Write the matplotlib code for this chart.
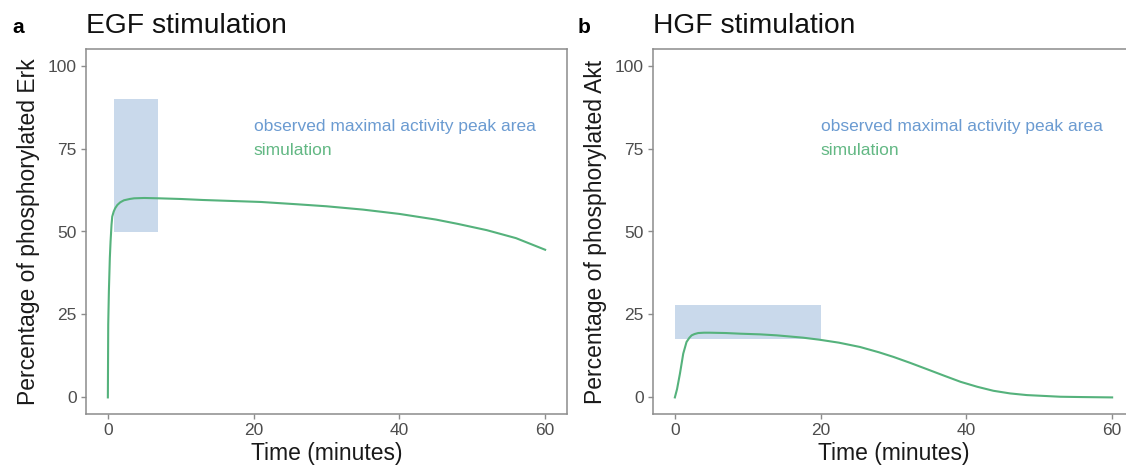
import matplotlib
matplotlib.use("Agg")
import matplotlib.pyplot as plt
from matplotlib.patches import Rectangle

plt.rcParams['font.family'] = ['Liberation Sans', 'DejaVu Sans']

# ---- data ----
erk_time = [0, 0.05, 0.14, 0.27, 0.37, 0.5, 0.6, 0.8, 1.0, 1.3, 1.7, 2.2, 3, 3.6, 5, 7,
            10, 13, 17, 21, 26, 30, 35, 40, 45, 48, 52, 56, 60]
erk_value = [0, 22, 32, 42, 47, 52, 54.5, 56, 57, 58, 58.8, 59.4, 59.8, 60, 60.1, 60,
             59.8, 59.5, 59.2, 58.9, 58.2, 57.6, 56.6, 55.3, 53.6, 52.3, 50.4, 48, 44.5]

akt_time = [0, 0.3, 0.7, 1.15, 1.6, 2.0, 2.3, 2.7, 3.2, 4, 4.8, 7, 9, 11.7, 14, 17.6,
            19.8, 22.5, 25.4, 28, 30, 32.3, 34.6, 37, 39.2, 41.5, 43.7, 46, 48.3, 52.9, 56, 60]
akt_value = [0, 2.5, 7.2, 13.2, 16.7, 18.0, 18.7, 19.1, 19.4, 19.5, 19.5, 19.4, 19.2, 19.0, 18.7, 18.0,
             17.4, 16.5, 15.2, 13.6, 12.2, 10.4, 8.5, 6.5, 4.7, 3.2, 2.0, 1.2, 0.7, 0.2, 0.1, 0]

erk_peak_x = [0.85, 6.9]
erk_peak_y = [50, 90]
akt_peak_x = [0, 20]
akt_peak_y = [17.6, 27.9]

panel_letters = ["a", "b"]
titles = ["EGF stimulation", "HGF stimulation"]
ylabels = ["Percentage of phosphorylated Erk", "Percentage of phosphorylated Akt"]
xlabel = "Time (minutes)"
xticks = [0, 20, 40, 60]
yticks = [0, 25, 50, 75, 100]
legend_texts = ["observed maximal activity peak area", "simulation"]

# ---- style ----
line_color = "#55b27c"
rect_color = "#c9d9eb"
blue_text = "#6b9bd1"
green_text = "#63b884"
spine_color = "#8c8c8c"
tick_label_color = "#4d4d4d"

W, H = 1126, 467
fig = plt.figure(figsize=(W / 100, H / 100), dpi=100)

ax_w = 481 / W
ax_h = 365 / H
ax_b = (H - 414) / H
axes = [fig.add_axes([86 / W, ax_b, ax_w, ax_h]),
        fig.add_axes([653 / W, ax_b, ax_w, ax_h])]

series = [(erk_time, erk_value, erk_peak_x, erk_peak_y),
          (akt_time, akt_value, akt_peak_x, akt_peak_y)]

for i, ax in enumerate(axes):
    t, v, px, py = series[i]
    ax.add_patch(Rectangle((px[0], py[0]), px[1] - px[0], py[1] - py[0],
                           facecolor=rect_color, edgecolor='none', zorder=1))
    ax.plot(t, v, color=line_color, lw=1.5, zorder=2, solid_joinstyle='round')
    ax.set_xlim(-3, 63)
    ax.set_ylim(-5, 105)
    ax.set_xticks(xticks)
    ax.set_yticks(yticks)
    for s in ax.spines.values():
        s.set_color(spine_color)
        s.set_linewidth(1.1)
    ax.tick_params(axis='both', colors=spine_color, labelcolor=tick_label_color,
                   labelsize=12.5, length=3.5, width=1.0, pad=3)
    ax.set_xlabel(xlabel, fontsize=16.5, color='#1a1a1a', labelpad=3)
    ax.set_ylabel(ylabels[i], fontsize=16.5, color='#1a1a1a', labelpad=6)
    ax.text(20, 81.5, legend_texts[0], color=blue_text, fontsize=12.5,
            ha='left', va='center')
    ax.text(20, 74.5, legend_texts[1], color=green_text, fontsize=12.5,
            ha='left', va='center')

# titles and panel letters
fig.text(86 / W, (H - 33) / H, titles[0], fontsize=20.3, color='#111111', ha='left', va='baseline')
fig.text(653 / W, (H - 33) / H, titles[1], fontsize=20.3, color='#111111', ha='left', va='baseline')
fig.text(12 / W, (H - 33) / H, panel_letters[0], fontsize=15, fontweight='bold', ha='left', va='baseline')
fig.text(578 / W, (H - 33) / H, panel_letters[1], fontsize=15, fontweight='bold', ha='left', va='baseline')

fig.savefig("out.png", dpi=100)
